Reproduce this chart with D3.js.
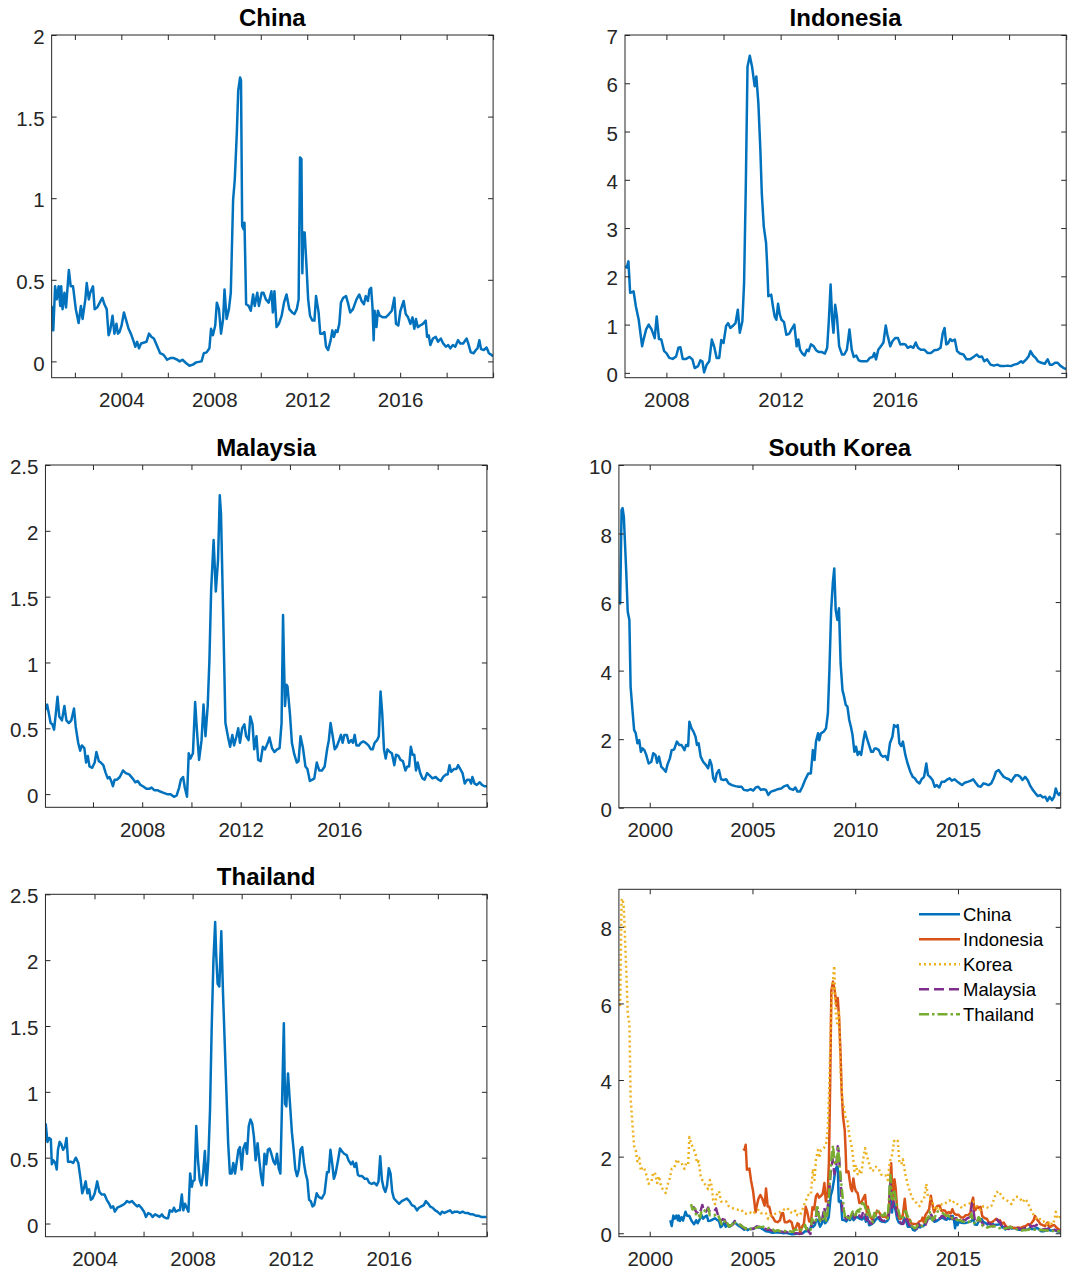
<!DOCTYPE html>
<html>
<head>
<meta charset="utf-8">
<script src="https://cdn.jsdelivr.net/npm/d3@7"></script>
<style>
  body { margin: 0; background: #fff; }
  svg { display: block; }
  text { font-family: "Liberation Sans", Arial, Helvetica, sans-serif; }
</style>
</head>
<body>
<svg id="chart" width="1073" height="1279"></svg>
<script>
// ---- Series: [decimal year, value] ----
const china = [[2001.00,0.34],[2001.07,0.19],[2001.15,0.46],[2001.22,0.38],[2001.30,0.46],[2001.37,0.34],[2001.41,0.46],[2001.47,0.32],[2001.55,0.42],[2001.62,0.33],[2001.74,0.56],[2001.82,0.46],[2001.92,0.46],[2002.04,0.32],[2002.16,0.235],[2002.26,0.34],[2002.33,0.26],[2002.45,0.38],[2002.51,0.48],[2002.60,0.38],[2002.66,0.42],[2002.78,0.46],[2002.85,0.32],[2002.96,0.33],[2003.07,0.36],[2003.18,0.39],[2003.27,0.35],[2003.37,0.32],[2003.45,0.16],[2003.52,0.19],[2003.62,0.28],[2003.70,0.17],[2003.79,0.23],[2003.85,0.17],[2003.92,0.18],[2004.01,0.22],[2004.11,0.30],[2004.19,0.26],[2004.31,0.20],[2004.41,0.17],[2004.51,0.13],[2004.60,0.09],[2004.68,0.12],[2004.76,0.08],[2004.85,0.11],[2005.08,0.12],[2005.19,0.17],[2005.30,0.15],[2005.40,0.14],[2005.52,0.10],[2005.67,0.05],[2005.82,0.04],[2005.97,0.01],[2006.11,0.02],[2006.26,0.02],[2006.41,0.01],[2006.51,0.00],[2006.63,0.01],[2006.78,-0.01],[2006.93,-0.027],[2007.08,-0.02],[2007.22,-0.006],[2007.45,0.00],[2007.55,0.05],[2007.67,0.055],[2007.79,0.08],[2007.86,0.20],[2007.94,0.16],[2008.04,0.22],[2008.11,0.36],[2008.20,0.32],[2008.29,0.17],[2008.38,0.26],[2008.44,0.44],[2008.53,0.26],[2008.63,0.32],[2008.71,0.42],[2008.81,0.99],[2008.88,1.11],[2008.97,1.40],[2009.03,1.66],[2009.11,1.74],[2009.15,1.72],[2009.20,0.83],[2009.26,0.81],[2009.30,0.85],[2009.37,0.35],[2009.48,0.34],[2009.57,0.31],[2009.67,0.41],[2009.74,0.34],[2009.85,0.42],[2009.92,0.34],[2010.04,0.42],[2010.12,0.42],[2010.22,0.38],[2010.34,0.36],[2010.46,0.43],[2010.52,0.30],[2010.59,0.43],[2010.68,0.21],[2010.78,0.23],[2010.90,0.28],[2011.00,0.36],[2011.11,0.41],[2011.23,0.32],[2011.35,0.30],[2011.45,0.29],[2011.55,0.32],[2011.63,0.38],[2011.69,1.25],[2011.75,1.24],[2011.79,0.54],[2011.83,0.79],[2011.89,0.79],[2011.97,0.58],[2012.04,0.38],[2012.12,0.28],[2012.22,0.25],[2012.31,0.25],[2012.38,0.40],[2012.49,0.30],[2012.56,0.17],[2012.66,0.17],[2012.74,0.18],[2012.81,0.09],[2012.90,0.07],[2013.01,0.13],[2013.08,0.19],[2013.15,0.15],[2013.23,0.19],[2013.30,0.18],[2013.38,0.23],[2013.45,0.36],[2013.55,0.39],[2013.67,0.40],[2013.75,0.36],[2013.85,0.30],[2013.97,0.32],[2014.12,0.38],[2014.24,0.41],[2014.34,0.37],[2014.44,0.35],[2014.52,0.40],[2014.61,0.37],[2014.68,0.44],[2014.75,0.45],[2014.81,0.33],[2014.86,0.13],[2014.90,0.31],[2014.98,0.21],[2015.04,0.31],[2015.12,0.28],[2015.26,0.27],[2015.38,0.27],[2015.52,0.29],[2015.64,0.31],[2015.75,0.39],[2015.82,0.23],[2015.92,0.22],[2016.01,0.31],[2016.15,0.37],[2016.24,0.29],[2016.34,0.27],[2016.44,0.23],[2016.53,0.27],[2016.61,0.20],[2016.68,0.26],[2016.76,0.21],[2016.86,0.22],[2016.98,0.23],[2017.10,0.25],[2017.16,0.15],[2017.23,0.16],[2017.30,0.10],[2017.41,0.14],[2017.53,0.15],[2017.63,0.12],[2017.75,0.14],[2017.85,0.11],[2017.97,0.09],[2018.07,0.10],[2018.16,0.08],[2018.27,0.10],[2018.37,0.09],[2018.49,0.13],[2018.59,0.11],[2018.71,0.11],[2018.86,0.14],[2018.93,0.11],[2019.04,0.055],[2019.16,0.05],[2019.26,0.07],[2019.33,0.08],[2019.41,0.13],[2019.48,0.075],[2019.60,0.07],[2019.72,0.085],[2019.82,0.05],[2019.93,0.04],[2020.00,0.03]];

const indonesia = [[2004.55,2.21],[2004.61,2.18],[2004.67,2.31],[2004.73,1.66],[2004.79,1.67],[2004.85,1.69],[2004.93,1.38],[2005.03,1.10],[2005.15,0.55],[2005.20,0.69],[2005.29,0.90],[2005.38,1.00],[2005.48,0.90],[2005.59,0.72],[2005.66,1.17],[2005.74,0.70],[2005.82,0.69],[2005.92,0.45],[2006.00,0.41],[2006.10,0.31],[2006.22,0.29],[2006.34,0.34],[2006.42,0.52],[2006.49,0.53],[2006.57,0.29],[2006.69,0.29],[2006.81,0.33],[2006.91,0.28],[2006.99,0.10],[2007.11,0.14],[2007.19,0.26],[2007.26,0.24],[2007.32,0.01],[2007.41,0.17],[2007.50,0.24],[2007.59,0.69],[2007.67,0.55],[2007.76,0.31],[2007.85,0.31],[2007.92,0.68],[2008.00,0.62],[2008.09,0.97],[2008.16,1.03],[2008.24,0.93],[2008.32,0.97],[2008.42,1.03],[2008.50,1.31],[2008.57,0.83],[2008.66,1.07],[2008.72,1.86],[2008.78,3.86],[2008.84,6.34],[2008.92,6.57],[2009.00,6.34],[2009.09,5.94],[2009.15,6.14],[2009.22,5.59],[2009.29,4.62],[2009.34,3.72],[2009.41,3.03],[2009.49,2.69],[2009.53,2.21],[2009.57,1.59],[2009.62,1.60],[2009.67,1.62],[2009.73,1.38],[2009.79,1.17],[2009.85,1.10],[2009.91,1.43],[2009.97,1.21],[2010.03,1.10],[2010.12,1.05],[2010.20,0.79],[2010.30,0.81],[2010.38,0.90],[2010.48,1.00],[2010.56,0.55],[2010.62,0.69],[2010.68,0.48],[2010.76,0.40],[2010.84,0.36],[2010.92,0.48],[2010.98,0.45],[2011.06,0.59],[2011.16,0.55],[2011.24,0.47],[2011.34,0.43],[2011.45,0.43],[2011.55,0.40],[2011.63,0.52],[2011.69,1.10],[2011.75,1.83],[2011.81,1.07],[2011.85,0.83],[2011.91,1.41],[2011.97,1.17],[2012.05,0.55],[2012.15,0.38],[2012.23,0.38],[2012.32,0.48],[2012.41,0.90],[2012.49,0.48],[2012.56,0.33],[2012.65,0.36],[2012.73,0.26],[2012.82,0.24],[2012.94,0.24],[2013.03,0.24],[2013.12,0.31],[2013.22,0.33],[2013.28,0.41],[2013.34,0.28],[2013.42,0.48],[2013.51,0.55],[2013.60,0.63],[2013.68,0.98],[2013.74,0.79],[2013.84,0.55],[2013.92,0.66],[2014.01,0.72],[2014.11,0.72],[2014.19,0.59],[2014.29,0.60],[2014.37,0.59],[2014.45,0.52],[2014.55,0.55],[2014.65,0.52],[2014.73,0.63],[2014.81,0.52],[2014.91,0.48],[2015.03,0.48],[2015.15,0.41],[2015.26,0.41],[2015.38,0.47],[2015.50,0.48],[2015.60,0.52],[2015.68,0.83],[2015.74,0.93],[2015.80,0.59],[2015.86,0.61],[2015.94,0.70],[2016.01,0.66],[2016.10,0.69],[2016.18,0.45],[2016.28,0.40],[2016.40,0.38],[2016.51,0.28],[2016.63,0.28],[2016.75,0.33],[2016.87,0.38],[2016.95,0.33],[2017.05,0.34],[2017.13,0.24],[2017.23,0.28],[2017.35,0.17],[2017.47,0.15],[2017.59,0.17],[2017.70,0.14],[2017.82,0.14],[2017.94,0.15],[2018.06,0.14],[2018.18,0.17],[2018.30,0.19],[2018.42,0.24],[2018.48,0.21],[2018.60,0.28],[2018.68,0.34],[2018.75,0.45],[2018.84,0.36],[2018.93,0.31],[2019.01,0.24],[2019.13,0.21],[2019.25,0.19],[2019.35,0.28],[2019.43,0.17],[2019.51,0.17],[2019.61,0.21],[2019.70,0.21],[2019.79,0.15],[2019.91,0.10],[2020.00,0.08]];

const korea = [[1998.50,6.11],[1998.56,5.96],[1998.63,8.69],[1998.68,8.74],[1998.74,8.49],[1998.79,7.81],[1998.86,6.84],[1998.93,5.72],[1999.01,5.48],[1999.07,3.53],[1999.16,2.85],[1999.24,2.27],[1999.32,2.17],[1999.40,1.88],[1999.49,1.97],[1999.57,1.63],[1999.65,1.73],[1999.74,1.68],[1999.83,1.54],[1999.95,1.29],[2000.08,1.34],[2000.17,1.59],[2000.28,1.54],[2000.36,1.31],[2000.45,1.49],[2000.56,1.20],[2000.64,1.15],[2000.78,1.05],[2000.86,1.25],[2000.98,1.44],[2001.07,1.68],[2001.19,1.70],[2001.32,1.93],[2001.44,1.83],[2001.55,1.83],[2001.69,1.68],[2001.77,1.83],[2001.87,1.80],[2001.93,2.51],[2002.03,2.32],[2002.13,2.22],[2002.23,2.07],[2002.30,1.83],[2002.38,1.88],[2002.48,1.49],[2002.60,1.34],[2002.73,1.25],[2002.84,1.15],[2002.93,1.39],[2003.01,1.25],[2003.09,0.86],[2003.18,0.76],[2003.26,1.00],[2003.37,1.10],[2003.47,0.83],[2003.59,0.81],[2003.72,0.83],[2003.84,0.71],[2004.00,0.66],[2004.17,0.63],[2004.33,0.61],[2004.47,0.61],[2004.58,0.52],[2004.75,0.50],[2004.91,0.54],[2005.04,0.50],[2005.16,0.59],[2005.28,0.61],[2005.41,0.52],[2005.54,0.54],[2005.66,0.52],[2005.77,0.37],[2005.90,0.47],[2006.07,0.50],[2006.23,0.54],[2006.40,0.56],[2006.56,0.63],[2006.70,0.66],[2006.81,0.56],[2006.98,0.52],[2007.09,0.59],[2007.19,0.47],[2007.31,0.47],[2007.43,0.61],[2007.56,0.81],[2007.72,1.00],[2007.84,1.00],[2007.94,1.68],[2008.02,1.39],[2008.09,1.93],[2008.19,2.17],[2008.25,1.97],[2008.33,2.17],[2008.47,2.22],[2008.58,2.32],[2008.67,2.75],[2008.75,4.11],[2008.83,5.77],[2008.91,6.55],[2008.98,6.98],[2009.05,5.77],[2009.13,5.48],[2009.21,5.82],[2009.29,4.21],[2009.38,3.43],[2009.46,3.24],[2009.54,3.00],[2009.62,2.95],[2009.71,2.56],[2009.79,2.36],[2009.87,2.12],[2009.96,1.63],[2010.04,1.78],[2010.12,1.54],[2010.20,1.63],[2010.29,1.54],[2010.40,1.97],[2010.48,2.22],[2010.57,2.02],[2010.67,1.83],[2010.78,1.63],[2010.86,1.63],[2010.95,1.73],[2011.03,1.73],[2011.15,1.68],[2011.25,1.54],[2011.36,1.49],[2011.48,1.51],[2011.58,1.39],[2011.69,1.88],[2011.81,2.07],[2011.89,2.41],[2011.99,2.36],[2012.07,2.41],[2012.15,1.88],[2012.24,1.80],[2012.32,1.93],[2012.44,1.54],[2012.55,1.29],[2012.68,1.05],[2012.80,0.90],[2012.90,0.86],[2013.01,0.76],[2013.13,0.71],[2013.23,0.83],[2013.35,0.90],[2013.46,1.29],[2013.54,0.95],[2013.64,0.90],[2013.76,0.81],[2013.87,0.61],[2013.97,0.66],[2014.09,0.59],[2014.21,0.76],[2014.34,0.76],[2014.45,0.81],[2014.59,0.86],[2014.70,0.79],[2014.83,0.83],[2014.97,0.76],[2015.08,0.71],[2015.20,0.66],[2015.33,0.73],[2015.50,0.76],[2015.63,0.79],[2015.74,0.83],[2015.86,0.73],[2015.99,0.63],[2016.11,0.61],[2016.24,0.71],[2016.36,0.69],[2016.49,0.66],[2016.62,0.71],[2016.74,0.86],[2016.85,1.05],[2016.98,1.10],[2017.10,1.00],[2017.23,0.90],[2017.35,0.86],[2017.48,0.83],[2017.60,0.76],[2017.69,0.86],[2017.81,0.95],[2017.92,0.95],[2018.03,0.90],[2018.14,0.81],[2018.27,0.90],[2018.39,0.81],[2018.50,0.66],[2018.64,0.52],[2018.77,0.42],[2018.89,0.34],[2019.00,0.37],[2019.13,0.30],[2019.25,0.32],[2019.35,0.20],[2019.46,0.32],[2019.58,0.22],[2019.68,0.32],[2019.76,0.56],[2019.84,0.42],[2019.91,0.37],[2019.99,0.45]];

const malaysia = [[2002.07,0.64],[2002.14,0.68],[2002.21,0.61],[2002.28,0.54],[2002.35,0.53],[2002.42,0.49],[2002.49,0.61],[2002.56,0.74],[2002.63,0.59],[2002.74,0.56],[2002.84,0.67],[2002.92,0.56],[2003.02,0.54],[2003.12,0.56],[2003.23,0.65],[2003.30,0.51],[2003.40,0.39],[2003.48,0.33],[2003.55,0.37],[2003.65,0.35],[2003.72,0.24],[2003.79,0.29],[2003.86,0.21],[2003.97,0.20],[2004.07,0.24],[2004.14,0.32],[2004.24,0.25],[2004.32,0.24],[2004.42,0.22],[2004.52,0.16],[2004.60,0.12],[2004.67,0.13],[2004.74,0.10],[2004.81,0.06],[2004.88,0.11],[2004.98,0.11],[2005.09,0.13],[2005.22,0.18],[2005.33,0.16],[2005.47,0.15],[2005.61,0.12],[2005.72,0.09],[2005.82,0.10],[2005.93,0.07],[2006.03,0.06],[2006.17,0.04],[2006.28,0.04],[2006.38,0.05],[2006.49,0.03],[2006.62,0.03],[2006.73,0.02],[2006.87,0.01],[2007.01,0.00],[2007.15,0.00],[2007.29,-0.02],[2007.40,-0.01],[2007.50,0.05],[2007.57,0.11],[2007.66,0.13],[2007.73,0.05],[2007.82,-0.02],[2007.89,0.31],[2007.96,0.27],[2008.06,0.31],[2008.15,0.70],[2008.22,0.49],[2008.31,0.26],[2008.41,0.41],[2008.49,0.68],[2008.57,0.44],[2008.66,0.67],[2008.73,1.02],[2008.80,1.55],[2008.90,1.93],[2008.99,1.54],[2009.08,1.78],[2009.15,2.27],[2009.20,2.13],[2009.29,1.35],[2009.38,0.54],[2009.48,0.44],[2009.57,0.36],[2009.66,0.45],[2009.73,0.37],[2009.83,0.44],[2009.90,0.50],[2009.97,0.39],[2010.06,0.50],[2010.15,0.53],[2010.22,0.44],[2010.32,0.41],[2010.39,0.59],[2010.48,0.53],[2010.55,0.34],[2010.64,0.44],[2010.71,0.26],[2010.81,0.25],[2010.90,0.36],[2010.99,0.34],[2011.10,0.39],[2011.17,0.43],[2011.27,0.35],[2011.37,0.32],[2011.48,0.34],[2011.58,0.35],[2011.66,0.54],[2011.72,1.36],[2011.76,0.99],[2011.80,0.67],[2011.86,0.83],[2011.90,0.82],[2012.00,0.61],[2012.08,0.39],[2012.18,0.30],[2012.28,0.24],[2012.35,0.25],[2012.43,0.44],[2012.53,0.35],[2012.63,0.21],[2012.71,0.19],[2012.81,0.10],[2012.91,0.11],[2012.99,0.12],[2013.09,0.24],[2013.19,0.18],[2013.30,0.18],[2013.41,0.21],[2013.51,0.34],[2013.58,0.41],[2013.65,0.54],[2013.72,0.46],[2013.82,0.34],[2013.90,0.36],[2014.00,0.41],[2014.07,0.45],[2014.14,0.39],[2014.21,0.45],[2014.31,0.45],[2014.39,0.39],[2014.49,0.41],[2014.56,0.39],[2014.63,0.45],[2014.70,0.37],[2014.80,0.37],[2014.88,0.39],[2014.98,0.40],[2015.08,0.39],[2015.19,0.37],[2015.29,0.34],[2015.36,0.34],[2015.44,0.39],[2015.54,0.41],[2015.61,0.44],[2015.68,0.78],[2015.75,0.61],[2015.82,0.34],[2015.89,0.27],[2015.96,0.34],[2016.06,0.32],[2016.14,0.31],[2016.24,0.22],[2016.31,0.30],[2016.41,0.29],[2016.49,0.26],[2016.59,0.25],[2016.69,0.18],[2016.77,0.21],[2016.84,0.21],[2016.91,0.36],[2016.98,0.30],[2017.05,0.30],[2017.12,0.18],[2017.19,0.24],[2017.29,0.16],[2017.38,0.12],[2017.47,0.11],[2017.57,0.16],[2017.68,0.14],[2017.79,0.12],[2017.92,0.13],[2018.03,0.11],[2018.13,0.10],[2018.22,0.13],[2018.34,0.15],[2018.41,0.15],[2018.48,0.22],[2018.55,0.17],[2018.66,0.19],[2018.76,0.19],[2018.83,0.22],[2018.92,0.19],[2019.01,0.16],[2019.10,0.08],[2019.20,0.11],[2019.29,0.11],[2019.36,0.08],[2019.41,0.13],[2019.50,0.08],[2019.59,0.07],[2019.71,0.09],[2019.80,0.07],[2019.90,0.06],[2020.00,0.06]];

const thailand = [[2002.01,0.76],[2002.08,0.62],[2002.15,0.65],[2002.22,0.64],[2002.26,0.45],[2002.33,0.48],[2002.40,0.46],[2002.46,0.41],[2002.51,0.56],[2002.58,0.62],[2002.65,0.60],[2002.72,0.56],[2002.79,0.58],[2002.86,0.65],[2002.92,0.47],[2003.03,0.47],[2003.13,0.46],[2003.24,0.50],[2003.34,0.46],[2003.43,0.34],[2003.50,0.23],[2003.57,0.27],[2003.64,0.32],[2003.71,0.23],[2003.78,0.26],[2003.85,0.18],[2003.92,0.19],[2004.01,0.23],[2004.11,0.32],[2004.20,0.24],[2004.29,0.22],[2004.41,0.22],[2004.50,0.18],[2004.60,0.15],[2004.67,0.12],[2004.76,0.13],[2004.83,0.09],[2004.93,0.12],[2005.04,0.13],[2005.14,0.14],[2005.23,0.15],[2005.32,0.17],[2005.42,0.16],[2005.53,0.17],[2005.63,0.15],[2005.74,0.13],[2005.81,0.14],[2005.91,0.12],[2006.02,0.09],[2006.10,0.05],[2006.19,0.08],[2006.29,0.07],[2006.37,0.05],[2006.47,0.07],[2006.57,0.06],[2006.65,0.05],[2006.75,0.07],[2006.82,0.05],[2006.92,0.04],[2007.00,0.04],[2007.07,0.10],[2007.17,0.09],[2007.24,0.12],[2007.31,0.09],[2007.41,0.10],[2007.48,0.10],[2007.56,0.22],[2007.62,0.10],[2007.69,0.15],[2007.76,0.12],[2007.83,0.09],[2007.90,0.38],[2007.97,0.28],[2008.01,0.32],[2008.08,0.33],[2008.15,0.74],[2008.22,0.48],[2008.29,0.33],[2008.36,0.29],[2008.43,0.38],[2008.50,0.55],[2008.57,0.29],[2008.64,0.48],[2008.71,0.86],[2008.78,1.50],[2008.85,2.00],[2008.92,2.29],[2008.96,2.05],[2009.02,1.82],[2009.09,1.80],[2009.17,2.22],[2009.24,1.75],[2009.31,1.37],[2009.38,0.99],[2009.45,0.61],[2009.52,0.38],[2009.59,0.38],[2009.66,0.46],[2009.73,0.38],[2009.80,0.47],[2009.87,0.56],[2009.93,0.58],[2010.00,0.41],[2010.07,0.57],[2010.15,0.61],[2010.22,0.53],[2010.29,0.74],[2010.36,0.79],[2010.43,0.76],[2010.50,0.66],[2010.57,0.48],[2010.65,0.61],[2010.72,0.48],[2010.79,0.36],[2010.86,0.29],[2010.93,0.53],[2011.00,0.45],[2011.07,0.56],[2011.14,0.57],[2011.21,0.53],[2011.30,0.47],[2011.37,0.45],[2011.44,0.53],[2011.51,0.42],[2011.58,0.38],[2011.65,0.94],[2011.72,1.52],[2011.77,0.91],[2011.82,0.89],[2011.89,1.14],[2011.96,0.94],[2012.05,0.69],[2012.12,0.56],[2012.19,0.41],[2012.26,0.36],[2012.33,0.41],[2012.40,0.56],[2012.47,0.58],[2012.54,0.46],[2012.61,0.38],[2012.68,0.33],[2012.75,0.18],[2012.82,0.17],[2012.89,0.13],[2012.96,0.14],[2013.06,0.23],[2013.15,0.20],[2013.27,0.19],[2013.38,0.23],[2013.48,0.39],[2013.55,0.39],[2013.62,0.56],[2013.69,0.46],[2013.76,0.34],[2013.83,0.38],[2013.93,0.48],[2014.01,0.57],[2014.08,0.55],[2014.18,0.53],[2014.28,0.52],[2014.36,0.48],[2014.46,0.45],[2014.53,0.47],[2014.60,0.43],[2014.67,0.46],[2014.74,0.37],[2014.81,0.36],[2014.91,0.36],[2015.02,0.34],[2015.12,0.34],[2015.20,0.31],[2015.30,0.30],[2015.40,0.31],[2015.51,0.29],[2015.58,0.32],[2015.65,0.51],[2015.72,0.33],[2015.79,0.27],[2015.86,0.24],[2015.93,0.29],[2016.00,0.42],[2016.07,0.38],[2016.14,0.24],[2016.21,0.19],[2016.31,0.17],[2016.42,0.15],[2016.53,0.17],[2016.63,0.18],[2016.73,0.19],[2016.84,0.17],[2016.94,0.14],[2017.05,0.13],[2017.15,0.10],[2017.23,0.12],[2017.33,0.13],[2017.43,0.14],[2017.51,0.17],[2017.61,0.15],[2017.68,0.13],[2017.78,0.12],[2017.89,0.10],[2017.98,0.09],[2018.10,0.07],[2018.17,0.09],[2018.27,0.08],[2018.38,0.09],[2018.50,0.10],[2018.59,0.08],[2018.69,0.09],[2018.80,0.09],[2018.90,0.08],[2019.01,0.09],[2019.11,0.08],[2019.22,0.08],[2019.34,0.07],[2019.43,0.07],[2019.55,0.06],[2019.65,0.06],[2019.76,0.05],[2019.86,0.05],[2019.98,0.05]];

// ---- Names and ticks ----
const legendNames = ["China", "Indonesia", "Korea", "Malaysia", "Thailand"];
const panelTitles = ["China", "Indonesia", "Malaysia", "South Korea", "Thailand"];

const chinaXTicks = [2002, 2004, 2006, 2008, 2010, 2012, 2014, 2016, 2018, 2020];
const chinaXLabels = [2004, 2008, 2012, 2016];
const chinaYTicks = [0, 0.5, 1, 1.5, 2];

const indonesiaXTicks = [2008, 2010, 2012, 2014, 2016, 2018, 2020, 2022];
const indonesiaXLabels = [2008, 2012, 2016];
const indonesiaYTicks = [0, 1, 2, 3, 4, 5, 6, 7];

const malaysiaXTicks = [2006, 2008, 2010, 2012, 2014, 2016, 2018, 2020, 2022];
const malaysiaXLabels = [2008, 2012, 2016];
const malaysiaYTicks = [0, 0.5, 1, 1.5, 2, 2.5];

const koreaXTicks = [2000, 2005, 2010, 2015];
const koreaXLabels = [2000, 2005, 2010, 2015];
const koreaYTicks = [0, 2, 4, 6, 8, 10];

const thailandXTicks = [2004, 2006, 2008, 2010, 2012, 2014, 2016, 2018, 2020];
const thailandXLabels = [2004, 2008, 2012, 2016];
const thailandYTicks = [0, 0.5, 1, 1.5, 2, 2.5];

const allXTicks = [2000, 2005, 2010, 2015];
const allYTicks = [0, 2, 4, 6, 8];

// ---- Styling ----
const axisColor = "#262626";
const tickFont = 20.5;
const titleFont = 24;
const legendFont = 18.5;
const lineWidth = 2.5;
const styles = {
  China:     { color: "#0072BD", dash: null },
  Indonesia: { color: "#D95319", dash: null },
  Korea:     { color: "#EDB120", dash: "2 3" },
  Malaysia:  { color: "#7E2F8E", dash: "10 5" },
  Thailand:  { color: "#77AC30", dash: "10 3 2.5 3" }
};

// The single-country Indonesia and Malaysia panels run on a calendar
// two years ahead of the combined panel.
const panels = [
  { title: panelTitles[0], series: [{ data: china, name: "China", shift: 0 }],
    box: [51.65, 35, 493.1, 377.7], xDomain: [2001.0, 2020.0], yDomain: [-0.1, 2],
    xTicks: chinaXTicks, xLabels: chinaXLabels, yTicks: chinaYTicks },
  { title: panelTitles[1], series: [{ data: indonesia, name: "China", shift: 2 }],
    box: [625, 35, 1066.2, 377.7], xDomain: [2006.55, 2022.0], yDomain: [-0.1, 7],
    xTicks: indonesiaXTicks, xLabels: indonesiaXLabels, yTicks: indonesiaYTicks },
  { title: panelTitles[2], series: [{ data: malaysia, name: "China", shift: 2 }],
    box: [45.45, 465, 486.9, 807.3], xDomain: [2004.07, 2022.0], yDomain: [-0.1, 2.5],
    xTicks: malaysiaXTicks, xLabels: malaysiaXLabels, yTicks: malaysiaYTicks },
  { title: panelTitles[3], series: [{ data: korea, name: "China", shift: 0 }],
    box: [618.9, 465, 1060.7, 807.7], xDomain: [1998.5, 2020.0], yDomain: [0, 10],
    xTicks: koreaXTicks, xLabels: koreaXLabels, yTicks: koreaYTicks },
  { title: panelTitles[4], series: [{ data: thailand, name: "China", shift: 0 }],
    box: [45.45, 894.3, 486.9, 1236.7], xDomain: [2002.0, 2020.0], yDomain: [-0.1, 2.5],
    xTicks: thailandXTicks, xLabels: thailandXLabels, yTicks: thailandYTicks },
  { title: null, legend: true,
    series: [
      { data: china, name: "China", shift: 0 },
      { data: indonesia, name: "Indonesia", shift: 0 },
      { data: korea, name: "Korea", shift: 0 },
      { data: malaysia, name: "Malaysia", shift: 0 },
      { data: thailand, name: "Thailand", shift: 0 }
    ],
    box: [618.9, 889.3, 1060.7, 1236.7], xDomain: [1998.5, 2020.0], yDomain: [-0.09, 8.98],
    xTicks: allXTicks, xLabels: allXTicks, yTicks: allYTicks }
];

const svg = d3.select("#chart");
svg.append("rect").attr("width", 1073).attr("height", 1279).attr("fill", "#fff");

function styleAxis(sel) {
  sel.attr("font-size", tickFont)
     .attr("font-family", '"Liberation Sans", Arial, Helvetica, sans-serif')
     .attr("color", axisColor);
  sel.select(".domain").remove();
  sel.selectAll("text").attr("fill", axisColor);
}

panels.forEach((p, i) => {
  const [x0, y0, x1, y1] = p.box;
  const x = d3.scaleLinear().domain(p.xDomain).range([x0, x1]);
  const y = d3.scaleLinear().domain(p.yDomain).range([y1, y0]);
  const g = svg.append("g").attr("class", "panel");

  const clipId = "clip" + i;
  g.append("clipPath").attr("id", clipId)
    .append("rect").attr("x", x0).attr("y", y0).attr("width", x1 - x0).attr("height", y1 - y0);

  // data lines
  const plot = g.append("g").attr("clip-path", `url(#${clipId})`);
  p.series.forEach(s => {
    const st = styles[s.name];
    const line = d3.line().x(d => x(d[0] + s.shift)).y(d => y(d[1]));
    plot.append("path")
      .datum(s.data)
      .attr("d", line)
      .attr("fill", "none")
      .attr("stroke", st.color)
      .attr("stroke-width", lineWidth)
      .attr("stroke-linejoin", "round")
      .attr("stroke-dasharray", st.dash);
  });

  // axes with inward ticks on all four sides
  const xLab = d => p.xLabels.includes(d) ? String(d) : "";
  g.append("g").attr("transform", `translate(0,${y1})`)
    .call(d3.axisBottom(x).tickValues(p.xTicks).tickSize(-5).tickPadding(15).tickFormat(xLab))
    .call(styleAxis);
  g.append("g").attr("transform", `translate(0,${y0})`)
    .call(d3.axisTop(x).tickValues(p.xTicks).tickSize(-5).tickFormat(""))
    .call(styleAxis);
  g.append("g").attr("transform", `translate(${x0},0)`)
    .call(d3.axisLeft(y).tickValues(p.yTicks).tickSize(-5).tickPadding(7).tickFormat(d => String(d)))
    .call(styleAxis)
    .call(a => a.selectAll("text").attr("dy", "0.42em"));
  g.append("g").attr("transform", `translate(${x1},0)`)
    .call(d3.axisRight(y).tickValues(p.yTicks).tickSize(-5).tickFormat(""))
    .call(styleAxis);

  g.append("rect")
    .attr("x", x0).attr("y", y0).attr("width", x1 - x0).attr("height", y1 - y0)
    .attr("fill", "none").attr("stroke", axisColor).attr("stroke-width", 1);

  if (p.title) {
    g.append("text")
      .attr("x", (x0 + x1) / 2).attr("y", y0 - 9.5)
      .attr("text-anchor", "middle")
      .attr("font-size", titleFont).attr("font-weight", "bold")
      .attr("fill", "#000")
      .text(p.title);
  }

  if (p.legend) {
    const lg = g.append("g").attr("class", "legend");
    legendNames.forEach((name, k) => {
      const st = styles[name];
      const ly = 914.3 + k * 25;
      lg.append("line")
        .attr("x1", 919).attr("x2", 960).attr("y1", ly).attr("y2", ly)
        .attr("stroke", st.color).attr("stroke-width", lineWidth)
        .attr("stroke-dasharray", st.dash);
      lg.append("text")
        .attr("x", 963).attr("y", ly).attr("dy", "0.35em")
        .attr("font-size", legendFont).attr("fill", "#000")
        .text(name);
    });
  }
});
</script>
</body>
</html>
